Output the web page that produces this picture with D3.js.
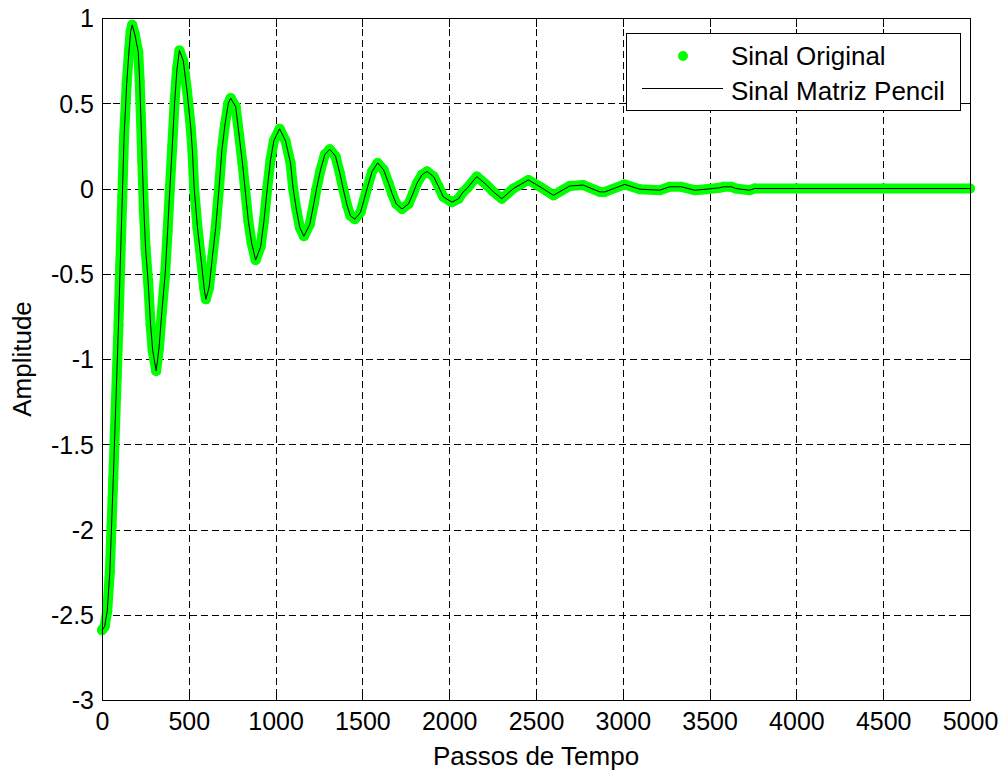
<!DOCTYPE html>
<html>
<head>
<meta charset="utf-8">
<script src="https://cdn.jsdelivr.net/npm/d3@7"></script>
<style>
  body { margin: 0; background: #fff; }
  svg { display: block; }
  text { font-family: "Liberation Sans", Arial, Helvetica, sans-serif; fill: #000; }
</style>
</head>
<body>
<svg id="chart" width="1002" height="771"></svg>
<script>
// ---- data ----
const passos = [
  0, 15, 30, 45, 55, 65, 75, 85, 95, 105, 117, 127, 142, 155, 165, 174,
  190, 209, 217, 224, 232, 241, 251, 266, 280, 292, 312,
  328, 345, 364, 378, 391, 405, 418, 432, 446,
  468, 490, 511, 521, 531, 550, 569, 588, 598,
  617, 636, 655, 674, 690, 709, 728, 741,
  770, 789, 809, 824, 843, 862, 885,
  914, 933, 952, 971, 990, 1023,
  1057, 1086, 1101, 1121, 1140, 1163,
  1197, 1220, 1236, 1259, 1284, 1312,
  1345, 1370, 1389, 1412, 1431, 1456,
  1489, 1511, 1527, 1556, 1588,
  1622, 1651, 1671, 1695, 1728,
  1766, 1791, 1814, 1843, 1872,
  1910, 1939, 1967, 2016,
  2054, 2080, 2102, 2159, 2216, 2255, 2303, 2370, 2456, 2523, 2600,
  2695, 2772, 2868, 2897, 3011, 3098, 3213, 3270, 3337, 3414, 3481,
  3557, 3580, 3625, 3650, 3730, 3759, 4000, 4500, 5000
];
const sinalOriginal = [
  -2.59, -2.57, -2.48, -2.25, -1.98, -1.70, -1.40, -1.10, -0.80, -0.45, -0.05, 0.30, 0.61, 0.80, 0.92, 0.96,
  0.90, 0.80, 0.63, 0.42, 0.16, -0.12, -0.35, -0.55, -0.80, -0.95, -1.07,
  -0.94, -0.72, -0.50, -0.25, 0.00, 0.25, 0.50, 0.70, 0.81,
  0.75, 0.57, 0.36, 0.22, 0.00, -0.23, -0.40, -0.58, -0.65,
  -0.58, -0.40, -0.23, 0.00, 0.22, 0.38, 0.50, 0.53,
  0.48, 0.32, 0.15, 0.00, -0.19, -0.32, -0.42,
  -0.34, -0.19, 0.00, 0.17, 0.28, 0.35,
  0.28, 0.15, 0.00, -0.13, -0.23, -0.28,
  -0.21, -0.09, 0.00, 0.11, 0.20, 0.23,
  0.19, 0.09, 0.00, -0.10, -0.16, -0.18,
  -0.14, -0.06, 0.00, 0.10, 0.15,
  0.11, 0.03, -0.03, -0.09, -0.12,
  -0.09, -0.03, 0.03, 0.08, 0.10,
  0.07, 0.01, -0.05, -0.08,
  -0.06, -0.02, 0.00, 0.07, 0.02, -0.02, -0.06, 0.00, 0.05, 0.01, -0.04,
  0.015, 0.02, -0.02, -0.02, 0.024, -0.004, -0.01, 0.01, 0.01, -0.01, -0.004,
  0.004, 0.01, 0.01, 0.0, -0.01, 0.0, 0.0, 0.0, 0.0
];
// The Matrix Pencil reconstruction coincides with the original signal
const sinalMatrizPencil = sinalOriginal.slice();

const xTicks = [0, 500, 1000, 1500, 2000, 2500, 3000, 3500, 4000, 4500, 5000];
const yTicks = [-3, -2.5, -2, -1.5, -1, -0.5, 0, 0.5, 1];
const seriesNames = ["Sinal Original", "Sinal Matriz Pencil"];
const xLabel = "Passos de Tempo";
const yLabel = "Amplitude";

// ---- layout ----
const L = 102, R = 970, T = 18, B = 700;
const svg = d3.select("#chart");

const x = d3.scaleLinear().domain([0, 5000]).range([L, R]);
const y = d3.scaleLinear().domain([-3, 1]).range([B, T]);

const fmt = d => String(d);

// grid
const grid = svg.append("g").attr("shape-rendering", "crispEdges")
  .attr("stroke", "#000").attr("stroke-width", 1).attr("stroke-dasharray", "7,4");
grid.selectAll("line.gx").data(xTicks.slice(1, -1)).join("line")
  .attr("x1", d => Math.round(x(d)) + 0.5).attr("x2", d => Math.round(x(d)) + 0.5)
  .attr("y1", T).attr("y2", B);
grid.selectAll("line.gy").data(yTicks.slice(1, -1)).join("line")
  .attr("y1", d => Math.round(y(d)) + 0.5).attr("y2", d => Math.round(y(d)) + 0.5)
  .attr("x1", L).attr("x2", R);

// axes
const tk = 9;
const axB = svg.append("g").attr("transform", `translate(0,${B})`)
  .call(d3.axisBottom(x).tickValues(xTicks).tickFormat(fmt).tickSize(-tk).tickPadding(12));
const axT = svg.append("g").attr("transform", `translate(0,${T})`)
  .call(d3.axisTop(x).tickValues(xTicks).tickFormat("").tickSize(-tk));
const axL = svg.append("g").attr("transform", `translate(${L},0)`)
  .call(d3.axisLeft(y).tickValues(yTicks).tickFormat(fmt).tickSize(-tk).tickPadding(8));
const axR = svg.append("g").attr("transform", `translate(${R},0)`)
  .call(d3.axisRight(y).tickValues(yTicks).tickFormat("").tickSize(-tk));
[axB, axT, axL, axR].forEach(g => {
  g.select(".domain").remove();
  g.selectAll("line").attr("stroke", "#000").attr("shape-rendering", "crispEdges");
  g.selectAll("text").attr("font-size", 25).attr("font-family", null).attr("fill", "#000");
});
axB.selectAll("text").attr("dy", "0.71em");
axL.selectAll("text").attr("dy", "0.35em");

// data
const pts = passos.map((t, i) => ({ t, a: sinalOriginal[i], m: sinalMatrizPencil[i] }));
const lineO = d3.line().x(d => x(d.t)).y(d => y(d.a));
const lineM = d3.line().x(d => x(d.t)).y(d => y(d.m));

// "Sinal Original" markers (dense dots form a continuous band)
svg.append("path").datum(pts).attr("d", lineO)
  .attr("fill", "none").attr("stroke", "#00ff00").attr("stroke-width", 10)
  .attr("stroke-linejoin", "round").attr("stroke-linecap", "round");
svg.append("g").selectAll("circle").data(pts).join("circle")
  .attr("cx", d => x(d.t)).attr("cy", d => y(d.a)).attr("r", 5).attr("fill", "#00ff00");

// "Sinal Matriz Pencil" line
svg.append("path").datum(pts).attr("d", lineM)
  .attr("fill", "none").attr("stroke", "#000").attr("stroke-width", 1);

// frame
svg.append("rect").attr("x", L + 0.5).attr("y", T + 0.5).attr("width", R - L).attr("height", B - T)
  .attr("fill", "none").attr("stroke", "#000").attr("shape-rendering", "crispEdges");

// axis labels
svg.append("text").attr("x", (L + R) / 2).attr("y", 765).attr("text-anchor", "middle")
  .attr("font-size", 26).text(xLabel);
svg.append("text").attr("transform", `translate(31,${(T + B) / 2}) rotate(-90)`)
  .attr("text-anchor", "middle").attr("font-size", 26).text(yLabel);

// legend
const lg = svg.append("g");
lg.append("rect").attr("x", 626.5).attr("y", 33.5).attr("width", 334).attr("height", 77)
  .attr("fill", "#fff").attr("stroke", "#000").attr("shape-rendering", "crispEdges");
lg.append("circle").attr("cx", 683).attr("cy", 56).attr("r", 5).attr("fill", "#00ff00");
lg.append("line").attr("x1", 642).attr("x2", 723).attr("y1", 88.5).attr("y2", 88.5)
  .attr("stroke", "#000").attr("stroke-width", 1);
lg.append("text").attr("x", 731).attr("y", 65).attr("font-size", 26).text(seriesNames[0]);
lg.append("text").attr("x", 731).attr("y", 100).attr("font-size", 26).text(seriesNames[1]);
</script>
</body>
</html>
